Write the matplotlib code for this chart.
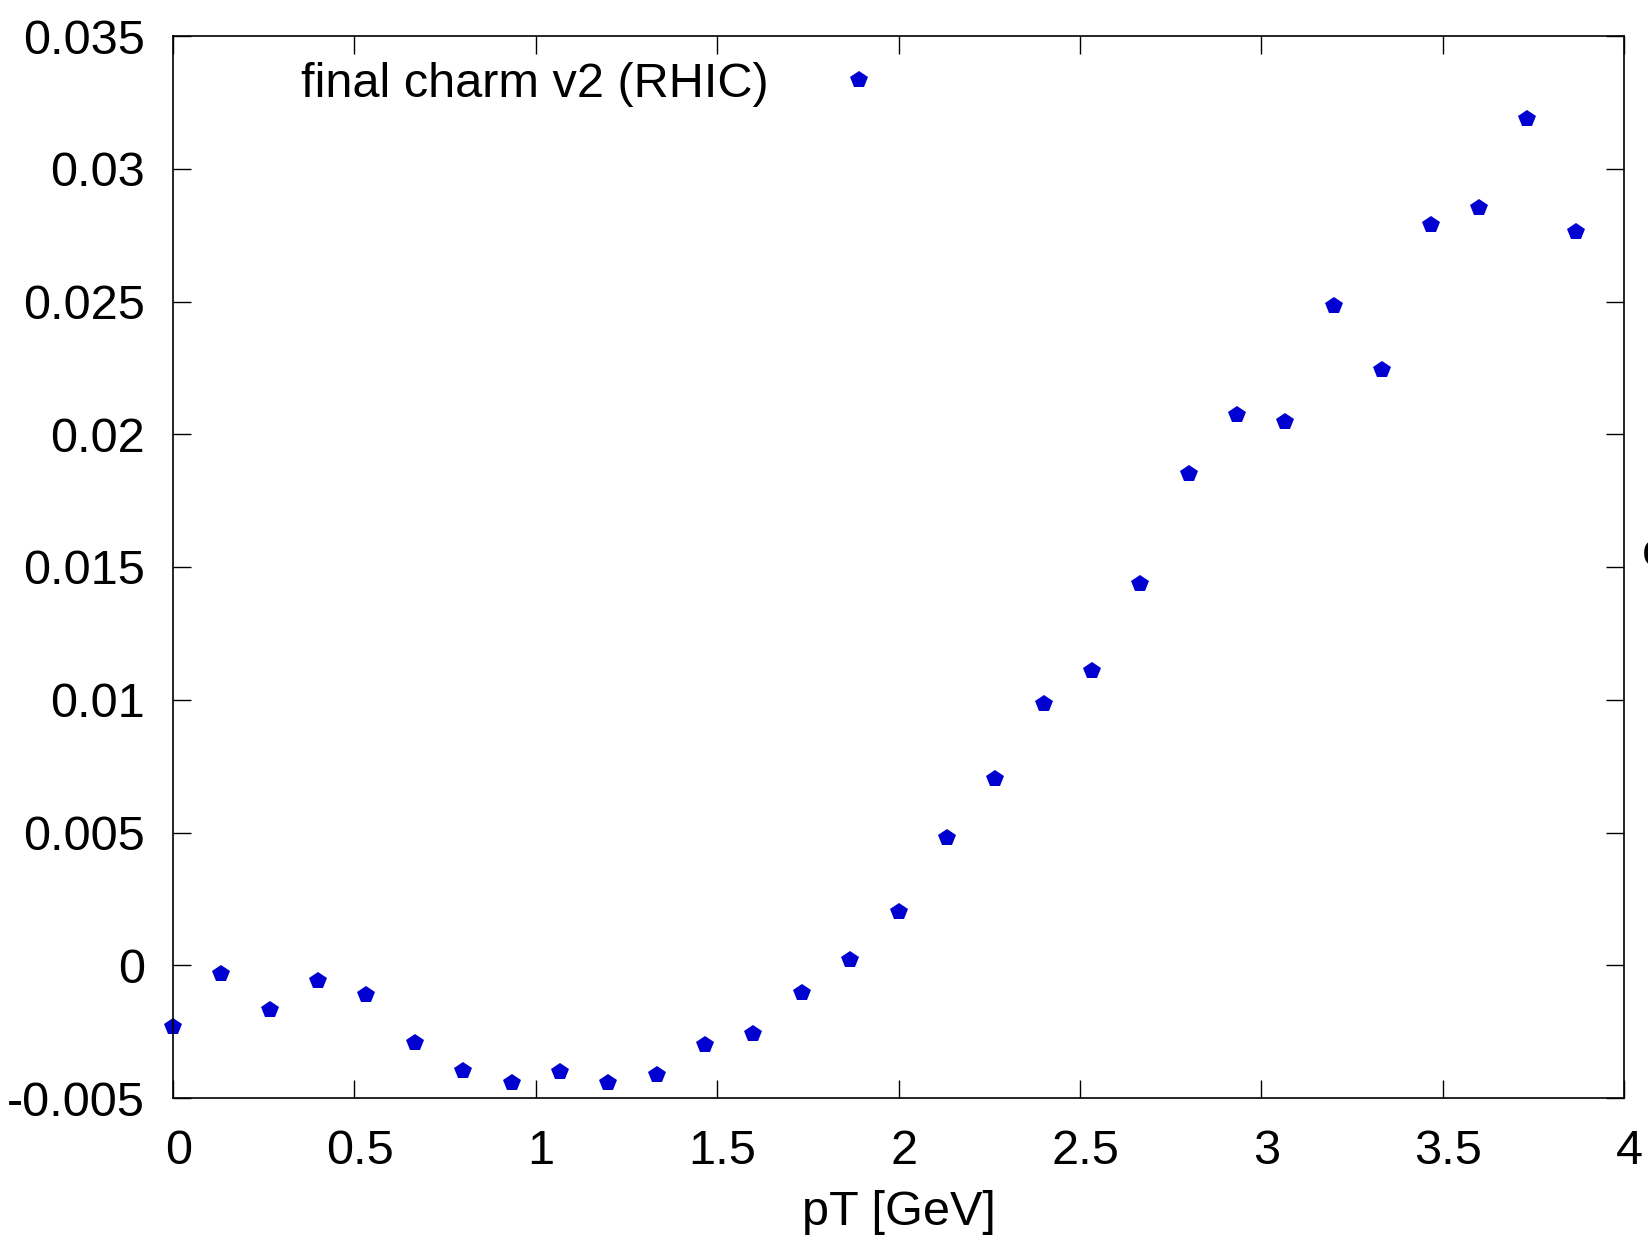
import matplotlib
matplotlib.use("Agg")
import matplotlib.pyplot as plt
import matplotlib.transforms as mtransforms

plt.rcParams['font.family'] = ['Liberation Sans', 'DejaVu Sans']

pt = [0.0, 0.1333, 0.2667, 0.4, 0.5333, 0.6667, 0.8, 0.9333, 1.0667, 1.2,
      1.3333, 1.4667, 1.6, 1.7333, 1.8667, 2.0, 2.1333, 2.2667, 2.4, 2.5333,
      2.6667, 2.8, 2.9333, 3.0667, 3.2, 3.3333, 3.4667, 3.6, 3.7333, 3.8667]
v2 = [-0.00231, -0.00033, -0.00168, -0.00061, -0.00112, -0.00294, -0.00397,
      -0.00445, -0.00401, -0.00445, -0.00413, -0.00302, -0.00259, -0.00104,
      0.00018, 0.00200, 0.00481, 0.00703, 0.00984, 0.01110, 0.01435, 0.01850,
      0.02072, 0.02048, 0.02483, 0.02242, 0.02788, 0.02851, 0.03187, 0.02760]
series_label = "final charm v2 (RHIC)"
xticks = [0, 0.5, 1, 1.5, 2, 2.5, 3, 3.5, 4]
xticklabels = ["0", "0.5", "1", "1.5", "2", "2.5", "3", "3.5", "4"]
yticks = [-0.005, 0, 0.005, 0.01, 0.015, 0.02, 0.025, 0.03, 0.035]
yticklabels = ["-0.005", "0", "0.005", "0.01", "0.015", "0.02", "0.025", "0.03", "0.035"]

FS = 35
W, H = 1648, 1251
fig = plt.figure(figsize=(W / 100, H / 100), dpi=100)
left, right, top, bottom = 173, 1624, 36, 1098
ax = fig.add_axes([left / W, 1 - bottom / H, (right - left) / W, (bottom - top) / H])

ax.plot(pt, v2, linestyle='none', marker='p', color='#0000d0', markersize=13,
        markeredgewidth=0, label=series_label, clip_on=False)

ax.set_xlim(0, 4)
ax.set_ylim(-0.005, 0.035)
ax.set_xticks(xticks)
ax.set_xticklabels(xticklabels)
ax.set_yticks(yticks)
ax.set_yticklabels(yticklabels)
ax.tick_params(direction='in', length=13, width=1.0, labelsize=FS,
               top=True, right=True)
ax.tick_params(axis='x', pad=22)
ax.tick_params(axis='y', pad=20)
offset = mtransforms.ScaledTranslation(4 / 72, 0, fig.dpi_scale_trans)
for lab in ax.get_xticklabels():
    lab.set_transform(lab.get_transform() + offset)
for s in ax.spines.values():
    s.set_linewidth(1.2)

ax.set_xlabel("pT [GeV]", fontsize=FS, labelpad=12)

leg = ax.legend(loc='center right', bbox_to_anchor=(0.4994, 0.954), frameon=False,
                markerfirst=False, fontsize=FS, handlelength=1.6, handletextpad=1.05,
                borderpad=0, borderaxespad=0)

fig.text(1642 / W, 1 - 553 / H, "e", fontsize=FS, ha='left', va='center')

fig.savefig("out.png", dpi=100)
